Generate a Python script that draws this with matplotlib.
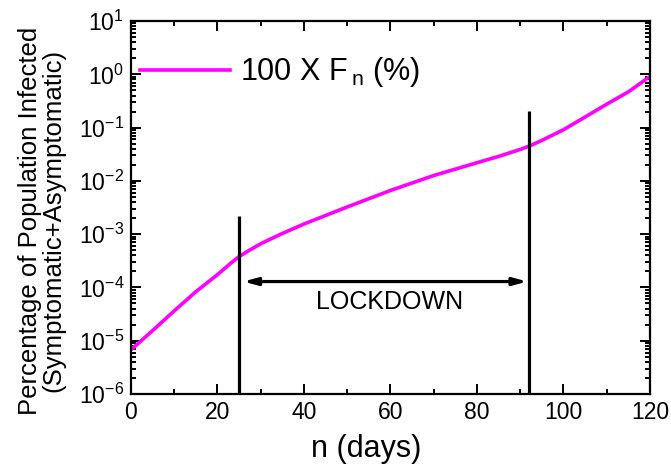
import matplotlib
matplotlib.use("Agg")
import matplotlib.pyplot as plt
from matplotlib.ticker import LogLocator, MultipleLocator, NullFormatter

plt.rcParams['font.family'] = ['Liberation Sans', 'DejaVu Sans']
plt.rcParams['mathtext.fontset'] = 'custom'
plt.rcParams['mathtext.rm'] = 'Liberation Sans'
plt.rcParams['mathtext.it'] = 'Liberation Sans:italic'
plt.rcParams['mathtext.bf'] = 'Liberation Sans:bold'

# infected fraction (percent)
days = [0, 5, 10, 15, 20, 23, 25, 27, 30, 35, 40, 50, 60, 70, 80, 85, 90,
        92, 95, 97, 100, 105, 110, 115, 120]
percent_infected = [6.76e-6, 1.55e-5, 3.63e-5, 8.32e-5, 1.74e-4, 2.82e-4,
                    3.80e-4, 4.79e-4, 6.61e-4, 1.03e-3, 1.55e-3, 3.24e-3,
                    6.61e-3, 1.26e-2, 2.19e-2, 2.88e-2, 3.89e-2, 4.47e-2,
                    5.75e-2, 6.92e-2, 9.12e-2, 0.158, 0.275, 0.468, 0.912]

lockdown_start = 25
lockdown_end = 92
marker_tops = [2.2e-3, 0.205]
arrow_level = 1.29e-4
label_level = 5.4e-5

fig = plt.figure(figsize=(6.71, 4.66), dpi=100)
ax = fig.add_axes([0.1952, 0.1545, 0.7735, 0.8004])

ax.plot(days, percent_infected, color='#ff00ff', lw=2.6,
        label=r'100 X F$\,_{\mathrm{n}}$ (%)')

for x, top in zip([lockdown_start, lockdown_end], marker_tops):
    ax.plot([x, x], [1e-6, top], color='black', lw=2.3, solid_capstyle='butt')

ax.annotate('', xy=(lockdown_start + 1, arrow_level),
            xytext=(lockdown_end - 0.4, arrow_level),
            arrowprops=dict(arrowstyle='<|-|>,head_length=0.8,head_width=0.22',
                            color='black', lw=2.3, shrinkA=0, shrinkB=0,
                            mutation_scale=10))
ax.text((lockdown_start + lockdown_end) / 2 + 1.4, label_level, 'LOCKDOWN',
        ha='center', va='center', fontsize=18)

ax.set_yscale('log')
ax.set_xlim(0, 120)
ax.set_ylim(1e-6, 1e1)
ax.xaxis.set_major_locator(MultipleLocator(20))
ax.xaxis.set_minor_locator(MultipleLocator(10))
ax.yaxis.set_major_locator(LogLocator(base=10, numticks=20))
ax.yaxis.set_minor_locator(LogLocator(base=10, subs=range(2, 10), numticks=20))
ax.yaxis.set_minor_formatter(NullFormatter())

ax.tick_params(which='both', direction='in', top=True, right=True,
               labelsize=16.5, width=1.4)
ax.tick_params(which='major', length=7, pad=5)
ax.tick_params(which='minor', length=3.5)
for sp in ax.spines.values():
    sp.set_linewidth(1.6)

ax.set_xlabel('n (days)', fontsize=22, va='center')
ax.xaxis.set_label_coords(0.453, -0.147)
ax.set_ylabel('Percentage of Population Infected\n(Symptomatic+Asymptomatic)',
              fontsize=18.5, va='center', linespacing=1.0)
ax.yaxis.set_label_coords(-0.172, 0.465)

ax.legend(loc='center left', bbox_to_anchor=(0.017, 0.862), frameon=False,
          fontsize=22, handlelength=2.95, handletextpad=0.33, borderpad=0,
          borderaxespad=0)

fig.savefig('out.png', dpi=100)
